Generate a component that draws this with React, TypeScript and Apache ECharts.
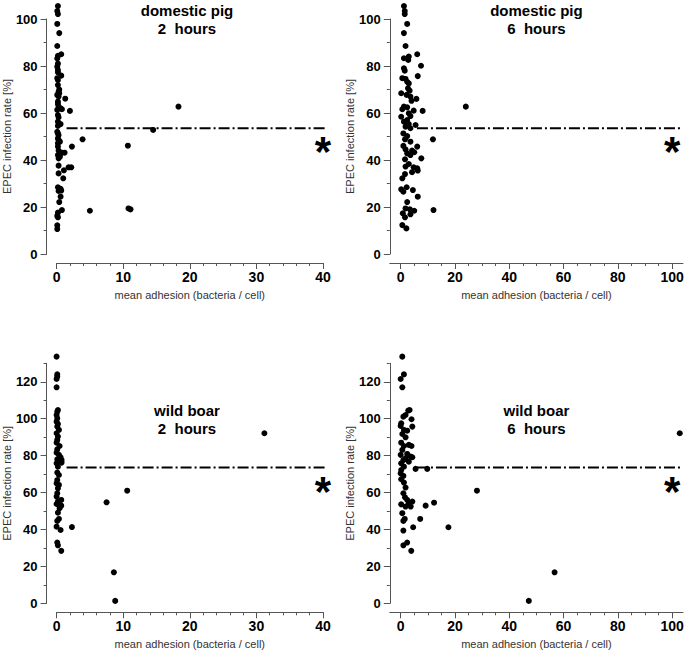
import React, { useEffect, useRef } from "react";
import * as echarts from "echarts";

// ---------- data ----------
const titles = ["domestic pig\n2  hours", "domestic pig\n6  hours", "wild boar\n2  hours", "wild boar\n6  hours"];
const xAxisName = "mean adhesion (bacteria / cell)";
const yAxisName = "EPEC infection rate [%]";

const xTicksShort = [0, 10, 20, 30, 40];
const xMinorShort = [0, 2, 4, 6, 8, 10, 12, 14, 16, 18, 20, 22, 24, 26, 28, 30, 32, 34, 36, 38, 40];
const xTicksLong = [0, 20, 40, 60, 80, 100];
const xMinorLong = [0, 5, 10, 15, 20, 25, 30, 35, 40, 45, 50, 55, 60, 65, 70, 75, 80, 85, 90, 95, 100];
const yTicksTop = [0, 20, 40, 60, 80, 100];
const yMinorTop = [0, 10, 20, 30, 40, 50, 60, 70, 80, 90, 100];
const yTicksBottom = [0, 20, 40, 60, 80, 100, 120];
const yMinorBottom = [0, 10, 20, 30, 40, 50, 60, 70, 80, 90, 100, 110, 120, 130];

const domesticPig2h: number[][] = [
  [0.2, 105.5], [0.1, 103.4], [0.2, 102.1], [0.1, 97.9], [0.4, 94], [0.1, 88.5], [0.2, 84.3], [0.7, 85],
  [0.1, 83.2], [0.2, 81], [0.1, 79.7], [0.2, 78.3], [0.2, 77.3], [0.7, 75.9], [0.1, 74.8], [0.2, 74],
  [0.2, 71.9], [0.4, 70], [0.3, 69], [0.4, 68.4], [0.1, 67.7], [0.3, 67], [1.3, 66.1], [0.2, 64.8],
  [0.2, 63.8], [0.3, 62.7], [0.6, 62], [0.8, 61.6], [0.1, 61.3], [2.0, 60.9], [0.2, 59.1], [0.3, 58.2],
  [0.2, 56.3], [0.6, 55.3], [0.2, 54.5], [0.1, 52], [0.2, 51.3], [0.3, 50.6], [0.2, 49.2], [0.3, 48.5],
  [3.9, 48.8], [0.2, 47.1], [0.5, 47.8], [0.2, 45.7], [2.3, 45.7], [0.3, 44], [0.8, 43.1], [1.2, 43.1],
  [0.6, 42.8], [0.2, 42.1], [0.5, 41.4], [0.3, 40.7], [1.8, 36.9], [2.2, 36.9], [0.3, 37.6], [1.1, 35.6],
  [0.3, 34.3], [1.0, 32.2], [0.2, 28.4], [0.6, 27.7], [0.3, 26.8], [0.7, 27], [0.6, 24.4], [0.4, 22.1],
  [0.8, 18.7], [0.2, 17.6], [0.1, 16.2], [0.2, 15.6], [0.1, 12.2], [0.1, 10.6], [5.0, 18.4], [10.7, 46.1],
  [10.8, 19.4], [11.1, 19], [14.5, 52.8], [18.3, 62.7],
];

const domesticPig6h: number[][] = [
  [1.2, 105.5], [1.5, 103.4], [1.5, 102.1], [2.4, 97.9], [1.2, 94], [1.8, 88.5], [6.1, 85], [1.2, 83.3],
  [3, 84], [2.8, 82.6], [7.5, 80.1], [1.2, 79], [1.5, 78], [6.3, 75.7], [0.6, 74.8], [1.8, 74.5],
  [2.4, 73.3], [3, 72.6], [2.7, 70.5], [3.3, 69.5], [0.2, 68.4], [2.2, 67.7], [3.6, 67], [5.8, 66],
  [4, 65.2], [1.2, 62.7], [2.4, 62.4], [0.6, 61.6], [4.8, 61], [8.1, 60.9], [24, 62.7], [3, 59.9],
  [0.2, 58.4], [3.6, 58.7], [2.4, 57], [5.5, 54.9], [1.2, 56.3], [3, 55.3], [1.8, 54.2], [3.6, 53.5],
  [1, 51.3], [2.4, 50.2], [1.6, 48.8], [11.9, 48.8], [3.6, 47.8], [1, 46], [6.1, 45.7], [1.8, 44.5],
  [4.2, 44], [2.4, 42.8], [5, 43.3], [3.6, 42.1], [1.6, 40.3], [7.6, 40.7], [3, 38.3], [1.8, 37.2],
  [4.8, 36.9], [6.1, 36.5], [6.3, 35.5], [4.2, 34.8], [1.6, 34], [0.6, 32.2], [2.2, 28.4], [0.2, 27.5],
  [1, 26.5], [4.5, 27.2], [6.3, 24.4], [2.4, 22.1], [1.8, 19.4], [3.4, 19], [5, 18.4], [12.1, 18.7],
  [0.8, 17.3], [3.6, 16.9], [1.6, 15.6], [0.6, 12.3], [2.1, 10.9],
];

const wildBoar2h: number[][] = [
  [0, 133.6], [0.1, 124], [0.1, 122.8], [0, 121.5], [0, 117], [0.2, 104.7], [0.1, 103.8], [0, 102],
  [0.1, 100.2], [0, 98.4], [0.2, 97.1], [0.1, 95.7], [0.35, 93.9], [0, 92.1], [0.2, 90.3], [0.1, 88.5],
  [0, 87], [0.45, 85.2], [0.1, 83.4], [0, 81.6], [0.35, 80.4], [0.6, 79.1], [0.75, 77.6], [0.75, 76.2],
  [0.1, 78], [0, 75.8], [0.2, 74], [0.1, 70.8], [0.35, 69.5], [0.1, 66.8], [0, 65], [0.35, 64.1],
  [0.2, 62.3], [0.1, 59.6], [0, 57.8], [0.7, 56], [0.2, 55.1], [0, 53.8], [0.7, 52.9], [0.45, 51.5],
  [0.2, 49.1], [0.35, 45.7], [0.1, 44.6], [0, 41.5], [0.6, 39.7], [0.1, 32.9], [0.2, 31.4], [0.7, 28.4],
  [2.3, 41.3], [7.5, 54.7], [10.6, 61], [8.6, 16.8], [8.8, 1.3], [31.2, 92.1],
];

const wildBoar6h: number[][] = [
  [0.6, 133.6], [1.2, 124], [0, 121.5], [0.6, 117], [2.8, 104.4], [3.3, 104.7], [1.8, 102], [1, 101.1],
  [4, 99.7], [0.2, 97.5], [0, 96.1], [4.3, 95.7], [1.2, 93.9], [2.4, 93.5], [0.6, 91.7], [1.8, 89.9],
  [0.2, 87], [3, 85.8], [4, 85.2], [1.2, 85.2], [0.6, 83.1], [0, 80.4], [2.4, 80.9], [3.7, 79.5],
  [4.3, 79.1], [1, 77.6], [1.8, 78.5], [3, 76.7], [0.2, 75.8], [1.2, 74], [0.2, 72.2], [5.5, 72.8],
  [9.8, 72.8], [0, 70.4], [1, 69], [0.2, 67.2], [1.2, 65.4], [1.8, 62.7], [1, 59.6], [1.6, 57.4],
  [2.4, 56], [4.3, 55.1], [3, 54.2], [0.2, 53.6], [1.8, 52.4], [3.7, 52.4], [12.3, 54.5], [9.2, 52.9],
  [0.6, 48.8], [1.5, 45.7], [1, 44.6], [7.2, 45.7], [4.6, 41.2], [17.6, 41.2], [1, 39.4], [2.4, 32.9],
  [1, 31.4], [3.9, 28.4], [28.1, 61], [56.7, 16.8], [47.2, 1.3], [102.8, 92.1],
];

// reference lines (dash-dot) and significance marks
const refLevels = [53.5, 53.5, 73.5, 73.5];
const refStart = [1.5, 6, 1.5, 6];
const refEnd = [41.5, 104, 41.5, 104];
const starPoints: number[][] = [[40, 46.5], [100, 46.5], [40, 64.5], [100, 64.5]];

const panelData = [domesticPig2h, domesticPig6h, wildBoar2h, wildBoar6h];

// ---------- layout ----------
const FONT = '"Liberation Sans", Arial, Helvetica, sans-serif';
const AXIS_COLOR = "#555";

const grids = [
  { left: 51, top: 19, width: 272, height: 235 },
  { left: 389.8, top: 19, width: 293.2, height: 235 },
  { left: 51, top: 363.3, width: 272, height: 240 },
  { left: 389.8, top: 363.3, width: 293.2, height: 240 },
];
const xRanges = [[0, 40], [-4, 104], [0, 40], [-4, 104]];
const yRanges = [[0, 100], [0, 100], [0, 130], [0, 130]];
const xMajors = [xTicksShort, xTicksLong, xTicksShort, xTicksLong];
const xMinors = [xMinorShort, xMinorLong, xMinorShort, xMinorLong];
const yMajors = [yTicksTop, yTicksTop, yTicksBottom, yTicksBottom];
const yMinors = [yMinorTop, yMinorTop, yMinorBottom, yMinorBottom];
const yOffsets = [10, 0, 10, 0];
const titleY = [19, 19, 419, 419];

function axisPair(dim: "x" | "y", p: number) {
  const isX = dim === "x";
  const range = isX ? xRanges[p] : yRanges[p];
  const majors = isX ? xMajors[p] : yMajors[p];
  const minors = isX ? xMinors[p] : yMinors[p];
  const offset = isX ? 9 : yOffsets[p];
  const position = isX ? "bottom" : "left";
  const minor = {
    type: "value",
    gridIndex: p,
    min: range[0],
    max: range[1],
    position,
    offset,
    axisLine: { show: true, onZero: false, lineStyle: { color: AXIS_COLOR, width: 1 } },
    axisTick: { show: true, length: 3, customValues: minors, lineStyle: { color: AXIS_COLOR, width: 1 } },
    axisLabel: { show: false },
    splitLine: { show: false },
  };
  const major = {
    type: "value",
    gridIndex: p,
    min: range[0],
    max: range[1],
    position,
    offset,
    axisLine: { show: false, onZero: false },
    axisTick: { show: true, length: 6, customValues: majors, lineStyle: { color: AXIS_COLOR, width: 1 } },
    axisLabel: {
      show: true,
      customValues: majors,
      color: "#000",
      fontWeight: "bold",
      fontFamily: FONT,
      fontSize: isX ? 14 : 13,
      margin: isX ? 7 : 9,
    },
    splitLine: { show: false },
    name: isX ? xAxisName : yAxisName,
    nameLocation: "middle",
    nameGap: isX ? 26 : 27,
    nameTextStyle: { color: "#333", fontSize: 11, fontFamily: FONT },
  };
  return [minor, major];
}

export default function App() {
  const ref = useRef<HTMLDivElement>(null);

  useEffect(() => {
    document.body.style.margin = "0";
    if (!ref.current) return;
    const chart = echarts.init(ref.current, undefined, { renderer: "svg" });

    const xAxes: any[] = [];
    const yAxes: any[] = [];
    const series: any[] = [];
    const graphics: any[] = [];
    for (let p = 0; p < 4; p++) {
      xAxes.push(...axisPair("x", p));
      yAxes.push(...axisPair("y", p));
      const xi = 2 * p + 1;
      const yi = 2 * p + 1;
      series.push({
        type: "scatter",
        xAxisIndex: xi,
        yAxisIndex: yi,
        data: panelData[p],
        symbol: "circle",
        symbolSize: 6,
        itemStyle: { color: "#000", opacity: 1 },
        clip: false,
      });
      series.push({
        type: "line",
        xAxisIndex: xi,
        yAxisIndex: yi,
        data: [[refStart[p], refLevels[p]], [refEnd[p], refLevels[p]]],
        symbol: "none",
        lineStyle: { color: "#000", width: 2, type: [11, 3, 2, 3], opacity: 1 },
        clip: false,
      });
      series.push({
        type: "scatter",
        xAxisIndex: xi,
        yAxisIndex: yi,
        data: [starPoints[p]],
        symbolSize: 0,
        itemStyle: { color: "#000", opacity: 1 },
        clip: false,
        label: {
          show: true,
          formatter: "*",
          position: [0, 0],
          align: "center",
          verticalAlign: "middle",
          color: "#000",
          textBorderWidth: 0,
          fontSize: 42,
          fontWeight: "bold",
          fontFamily: FONT,
          offset: [0, 7],
        },
      });
      const g = grids[p];
      graphics.push({
        type: "text",
        x: g.left + g.width / 2,
        y: titleY[p],
        style: {
          text: titles[p],
          fill: "#000",
          font: `bold 15px ${FONT}`,
          lineHeight: 18,
          align: "center",
          verticalAlign: "middle",
          textAlign: "center",
          textVerticalAlign: "middle",
        },
      });
    }

    chart.setOption({
      animation: false,
      backgroundColor: "#fff",
      grid: grids.map((g) => ({ ...g, containLabel: false })),
      xAxis: xAxes,
      yAxis: yAxes,
      series,
      graphic: graphics,
    });

    return () => chart.dispose();
  }, []);

  return <div ref={ref} style={{ width: 688, height: 654 }} />;
}
